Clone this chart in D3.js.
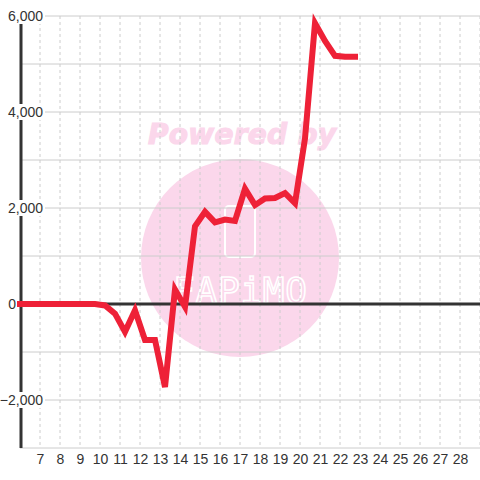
<!DOCTYPE html>
<html>
<head>
  <meta charset="UTF-8">
  <style>
    body { margin: 0; background: #fff; }
    svg { display: block; }
    .lbl { font-family: "Liberation Sans", Arial, sans-serif; font-size: 14px; fill: #333; }
  </style>
</head>
<body>
<div id="chart"></div>
<script src="https://d3js.org/d3.v7.min.js"></script>
<script>
  // data
  var xValues = [6, 9.75, 10.25, 10.75, 11.25, 11.75, 12.25, 12.75, 13.25, 13.75, 14.25,
                 14.75, 15.25, 15.75, 16.25, 16.75, 17.25, 17.75, 18.25, 18.75, 19.25,
                 19.75, 20.25, 20.75, 21.25, 21.75, 22.25, 22.75];
  var yValues = [0, 0, -30, -200, -580, -130, -750, -750, -1730, 300, -60,
                 1620, 1920, 1700, 1760, 1730, 2400, 2060, 2200, 2210, 2310,
                 2100, 3450, 5850, 5480, 5170, 5150, 5150];
  var xTicks = [7, 8, 9, 10, 11, 12, 13, 14, 15, 16, 17, 18, 19, 20, 21, 22, 23, 24, 25, 26, 27, 28];
  var yLabels = [6000, 4000, 2000, 0, -2000];

  var width = 480, height = 480;

  var svg = d3.select("#chart").append("svg")
    .attr("width", width)
    .attr("height", height);

  var x = d3.scaleLinear().domain([6, 29]).range([20, 480]);
  var y = d3.scaleLinear().domain([-3000, 6000]).range([448, 16]);

  // watermark
  var wm = svg.append("g");
  wm.append("circle")
    .attr("cx", 240).attr("cy", 258).attr("r", 99)
    .attr("fill", "#fbd7eb");
  wm.append("text")
    .attr("x", 242).attr("y", 144)
    .attr("text-anchor", "middle")
    .attr("font-family", "DejaVu Sans, sans-serif")
    .attr("font-weight", "bold")
    .attr("font-style", "italic")
    .attr("font-size", 28)
    .attr("textLength", 188)
    .attr("fill", "#fbd7eb")
    .attr("stroke", "#fbd7eb")
    .attr("stroke-width", 1.2)
    .text("Powered by");
  wm.append("rect")
    .attr("x", 225).attr("y", 206).attr("width", 30).attr("height", 51).attr("rx", 4)
    .attr("fill", "none").attr("stroke", "#fff").attr("stroke-width", 2);
  wm.append("text")
    .attr("x", 240).attr("y", 303)
    .attr("text-anchor", "middle")
    .attr("font-family", "DejaVu Sans Mono, monospace")
    .attr("font-size", 36)
    .attr("textLength", 134)
    .attr("fill", "none")
    .attr("stroke", "#fff")
    .attr("stroke-width", 1.6)
    .text("FAPiMO");

  // grid
  svg.append("g")
    .selectAll("line")
    .data(y.ticks(9))
    .join("line")
    .attr("x1", 20).attr("x2", 480)
    .attr("y1", d => y(d)).attr("y2", d => y(d))
    .attr("stroke", "#ccc");

  svg.append("g")
    .selectAll("line")
    .data(xTicks.concat([29]))
    .join("line")
    .attr("x1", d => x(d)).attr("x2", d => x(d))
    .attr("y1", 16).attr("y2", 448)
    .attr("stroke", "#ccc")
    .attr("stroke-dasharray", "3,3");

  // y axis line
  svg.append("line")
    .attr("x1", 21).attr("x2", 21)
    .attr("y1", 24).attr("y2", 448)
    .attr("stroke", "#333").attr("stroke-width", 3);

  // y labels with white boxes (the zero label sits left of the axis)
  var yl = svg.append("g")
    .selectAll("g")
    .data(yLabels)
    .join("g")
    .attr("transform", d => "translate(0," + y(d) + ")");
  yl.append("rect")
    .attr("x", 0).attr("y", -8)
    .attr("width", d => d === 0 ? 17 : 45).attr("height", 16)
    .attr("fill", "#fff");
  yl.append("text")
    .attr("class", "lbl")
    .attr("x", d => d === 0 ? 16 : 43).attr("dy", "0.36em")
    .attr("text-anchor", "end")
    .text(d => d3.format(",")(d));

  // zero line
  svg.append("line")
    .attr("x1", 21).attr("x2", 480)
    .attr("y1", y(0)).attr("y2", y(0))
    .attr("stroke", "#333").attr("stroke-width", 3);

  // x labels
  var xAxis = svg.append("g")
    .attr("transform", "translate(0,448)")
    .call(d3.axisBottom(x).tickValues(xTicks).tickSize(0).tickPadding(6));
  xAxis.select(".domain").remove();
  xAxis.attr("font-family", null).attr("font-size", null);
  xAxis.selectAll("text")
    .attr("class", "lbl")
    .attr("fill", null);

  // series
  var pts = xValues.map((v, i) => [v, yValues[i]]);
  svg.append("path")
    .datum(pts)
    .attr("fill", "none")
    .attr("stroke", "#ee2137")
    .attr("stroke-width", 6)
    .attr("stroke-linejoin", "miter")
    .attr("stroke-linecap", "square")
    .attr("d", d3.line().x(d => x(d[0])).y(d => y(d[1])));
</script>
</body>
</html>
